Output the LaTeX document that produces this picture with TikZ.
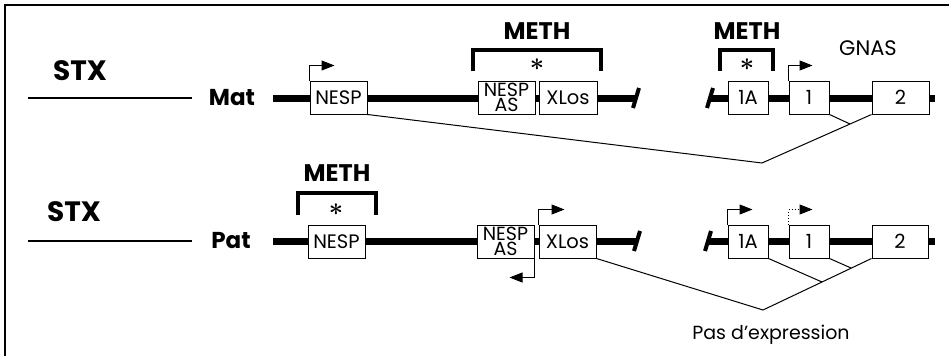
\documentclass[tikz,border=0pt]{standalone}
\usepackage{fontspec}
\setmainfont{Poppins}
\usetikzlibrary{arrows.meta}
\begin{document}
\begin{tikzpicture}[x=1pt,y=-1pt,
  backbone/.style={line width=7pt},
  thinline/.style={line width=2.5pt},
  exon/.style={draw, line width=1pt, fill=white, inner sep=0pt, minimum height=33pt, font=\fontsize{19.5}{19.5}\selectfont},
  exonas/.style={exon, align=center, font=\fontsize{19}{13.5}\selectfont},
  bracket/.style={line width=3.5pt, line join=miter},
  splice/.style={line width=1pt},
  prom/.style={line width=1pt, -{Triangle[length=13pt,width=10pt]}},
  slashmark/.style={line width=4pt},
  stx/.style={font=\bfseries\fontsize{28}{28}\selectfont},
  allele/.style={font=\bfseries\fontsize{23}{23}\selectfont},
  meth/.style={font=\bfseries\fontsize{24}{24}\selectfont},
  star/.style={font=\boldmath\fontsize{34}{34}\selectfont, inner sep=0pt},
  plain/.style={font=\fontsize{19}{19}\selectfont},
]
\useasboundingbox (0,0) rectangle (949,356);
\draw[line width=2pt] (5,356) -- (5,5) -- (949,5);

% ---------- Row 1 (Mat) ----------
\node[stx] (stx1) at (80,71) {STX};
\coordinate (t1a) at (28,98); \coordinate (t1b) at (192,98);
\draw[thinline] (t1a) -- (t1b);
\node[allele] (mat) at (232,98) {Mat};
\coordinate (b1s) at (273,98); \coordinate (b1e) at (636,98);
\coordinate (b1s2) at (710,98); \coordinate (b1e2) at (935,98);
\draw[backbone] (b1s) -- (b1e);
\draw[backbone] (b1s2) -- (b1e2);
\draw[slashmark] ([shift={(-3,10)}]b1e) -- ([shift={(3,-10)}]b1e);
\draw[slashmark] ([shift={(-3,10)}]b1s2) -- ([shift={(3,-10)}]b1s2);

\node[exon, minimum width=57pt] (nesp1) at (338.5,97.5) {NESP};
\node[exonas, minimum width=57pt] (nas1) at (506.5,97.5) {NESP\\AS};
\node[exon, minimum width=58pt] (xl1) at (568,97.5) {XLos};
\node[exon, minimum width=40pt] (ea1) at (748,97.5) {1A};
\node[exon, minimum width=40pt] (eb1) at (809,97.5) {1};
\node[exon, minimum width=57pt] (ec1) at (900.5,97.5) {2};

\draw[bracket] (473,71) -- (473,50) -- (601,50) -- (601,71);
\node[star] (s1) at (537,65) {$\ast$};
\node[meth] (m1) at (537,31) {METH};
\draw[bracket] (720,71) -- (720,50) -- (773,50) -- (773,71);
\node[star] (s2) at (747,65) {$\ast$};
\node[meth] (m2) at (747,31) {METH};
\node[plain, font=\fontsize{21}{21}\selectfont] (gnas) at (868,48) {GNAS};

\draw[prom] (nesp1.north west) -- ++(0,-15) -- ++(25,0);
\draw[prom] (eb1.north west) -- ++(0,-15) -- ++(24,0);

\coordinate (v1) at (762,163); \coordinate (j1) at (850,124);
\draw[splice] (nesp1.south east) -- (v1) -- (ec1.south west);
\draw[splice] (eb1.south east) -- (j1);

% ---------- Row 2 (Pat) ----------
\node[stx] (stx2) at (74,212) {STX};
\coordinate (t2a) at (28,241); \coordinate (t2b) at (192,241);
\draw[thinline] (t2a) -- (t2b);
\node[allele] (pat) at (231,241) {Pat};
\coordinate (b2s) at (273,241); \coordinate (b2e) at (637,241);
\coordinate (b2s2) at (708,241); \coordinate (b2e2) at (935,241);
\draw[backbone] (b2s) -- (b2e);
\draw[backbone] (b2s2) -- (b2e2);
\draw[slashmark] ([shift={(-3,10)}]b2e) -- ([shift={(3,-10)}]b2e);
\draw[slashmark] ([shift={(-3,10)}]b2s2) -- ([shift={(3,-10)}]b2s2);

\node[exon, minimum width=57pt] (nesp2) at (336.5,241.5) {NESP};
\node[exonas, minimum width=57pt] (nas2) at (505.5,241.5) {NESP\\AS};
\node[exon, minimum width=57pt] (xl2) at (567.5,241.5) {XLos};
\node[exon, minimum width=40pt] (ea2) at (748,241.5) {1A};
\node[exon, minimum width=40pt] (eb2) at (809,241.5) {1};
\node[exon, minimum width=56pt] (ec2) at (900,241.5) {2};

\draw[bracket] (298,215) -- (298,193) -- (376,193) -- (376,215);
\node[star] (s3) at (336,210) {$\ast$};
\node[meth] (m3) at (337,173) {METH};

\draw[prom] (xl2.north west) -- ++(0,-15) -- ++(26,0);
\draw[prom] (nas2.south east) -- ++(0,19) -- ++(-25,0);
\draw[prom] (ea2.north west) -- ++(0,-15) -- ++(25,0);
\draw[prom, dotted] (eb2.north west) -- ++(0,-15) -- ++(24,0);

\coordinate (v2) at (763,310); \coordinate (j2a) at (822,282); \coordinate (j2b) at (851,268);
\draw[splice] (xl2.south east) -- (v2) -- (ec2.south west);
\draw[splice] (ea2.south east) -- (j2a);
\draw[splice] (eb2.south east) -- (j2b);

\node[plain] (pas) at (771,335) {Pas d’expression};
\end{tikzpicture}
\end{document}
